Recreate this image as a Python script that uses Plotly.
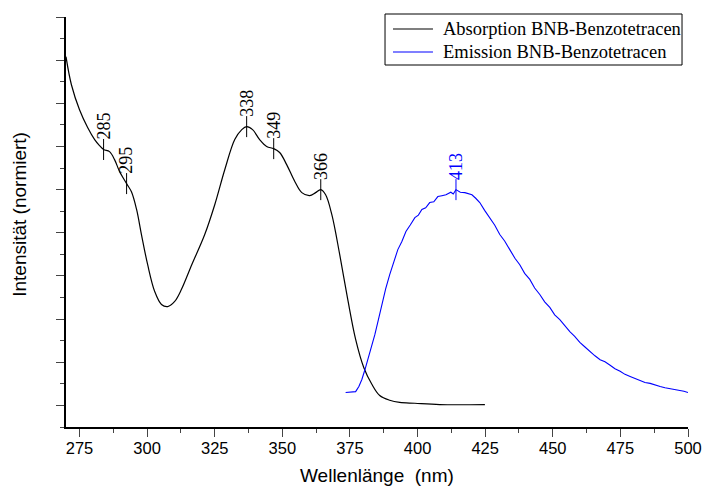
import plotly.graph_objects as go

# Absorption spectrum (black)
abs_wl = [270.0, 272.0, 275.0, 278.0, 280.6, 282.4, 283.9, 286.1, 288.0, 289.8, 292.4, 294.2,
          296.1, 297.9, 300.2, 302.8, 305.3, 307.6, 310.2, 312.7, 316.5, 321.3, 325.0, 328.7,
          332.4, 335.0, 336.8, 339.0, 341.6, 344.2, 346.8, 349.0, 351.6, 354.6, 357.2, 360.1,
          362.3, 364.2, 366.0, 368.3, 371.2, 374.2, 377.1, 380.1, 383.1, 386.0, 389.7, 393.4,
          399.0, 408.2, 424.9]
abs_int = [0.808, 0.743, 0.685, 0.644, 0.616, 0.602, 0.593, 0.588, 0.569, 0.542, 0.514, 0.495,
           0.454, 0.396, 0.326, 0.264, 0.234, 0.229, 0.241, 0.269, 0.326, 0.396, 0.465, 0.546,
           0.616, 0.639, 0.646, 0.639, 0.616, 0.600, 0.595, 0.586, 0.558, 0.519, 0.493, 0.486,
           0.493, 0.500, 0.488, 0.442, 0.350, 0.245, 0.153, 0.088, 0.049, 0.023, 0.012, 0.007,
           0.005, 0.002, 0.002]

# Emission spectrum (blue)
em_wl = [373.4, 377.1, 378.3, 379.4, 380.5, 381.6, 382.9, 384.2, 385.5, 386.8, 388.2, 389.7,
         391.2, 392.7, 394.2, 395.7, 397.3, 399.0, 400.3, 401.6, 403.0, 404.5, 406.0, 407.5,
         409.0, 410.5, 412.3, 413.2, 414.2, 415.8, 417.5, 418.8, 420.1, 421.5, 423.0, 424.8,
         426.7, 428.5, 430.4, 432.2, 434.1, 436.0, 437.8, 439.6, 441.5, 443.3, 445.2, 447.0,
         448.9, 450.7, 452.6, 454.4, 456.3, 458.1, 460.0, 461.8, 463.7, 465.6, 467.5, 469.3,
         471.2, 473.0, 474.9, 476.7, 478.6, 480.4, 482.3, 484.1, 486.0, 487.8, 489.7, 491.5,
         493.4, 495.2, 497.1, 498.5, 500.0]
em_int = [0.030, 0.032, 0.044, 0.060, 0.082, 0.106, 0.133, 0.164, 0.198, 0.234, 0.270, 0.303,
          0.330, 0.361, 0.380, 0.403, 0.418, 0.435, 0.441, 0.454, 0.458, 0.470, 0.472, 0.484,
          0.486, 0.488, 0.494, 0.490, 0.500, 0.494, 0.493, 0.490, 0.488, 0.480, 0.470, 0.452,
          0.435, 0.418, 0.396, 0.381, 0.361, 0.341, 0.326, 0.306, 0.292, 0.272, 0.257, 0.240,
          0.227, 0.210, 0.199, 0.184, 0.171, 0.160, 0.146, 0.136, 0.125, 0.115, 0.106, 0.101,
          0.093, 0.085, 0.079, 0.072, 0.067, 0.063, 0.058, 0.053, 0.051, 0.047, 0.044, 0.041,
          0.039, 0.036, 0.035, 0.033, 0.030]

# Peak markers
abs_peak_wl = [283.9, 292.4, 336.8, 346.8, 364.2]
abs_peak_int = [0.593, 0.514, 0.646, 0.595, 0.500]
abs_peak_lbl = ["285", "295", "338", "349", "366"]
em_peak_wl = [414.2]
em_peak_int = [0.500]
em_peak_lbl = ["413"]

series_names = ["Absorption BNB-Benzotetracen", "Emission BNB-Benzotetracen"]
series_colors = ["black", "#0000ff"]

fig = go.Figure()
fig.add_trace(go.Scatter(x=abs_wl, y=abs_int, mode="lines", line=dict(color=series_colors[0], width=1.2, shape="spline"),
                         name=series_names[0], showlegend=False))
fig.add_trace(go.Scatter(x=em_wl, y=em_int, mode="lines", line=dict(color=series_colors[1], width=1.1),
                         name=series_names[1], showlegend=False))
fig.add_trace(go.Scatter(x=abs_peak_wl, y=abs_peak_int, mode="markers", showlegend=False, hoverinfo="skip",
                         marker=dict(symbol="line-ns-open", size=15, color="black",
                                     line=dict(color="black", width=1))))
fig.add_trace(go.Scatter(x=em_peak_wl, y=em_peak_int, mode="markers", showlegend=False, hoverinfo="skip",
                         marker=dict(symbol="line-ns-open", size=15, color="#0000ff",
                                     line=dict(color="#0000ff", width=1))))

for x, y, t in zip(abs_peak_wl, abs_peak_int, abs_peak_lbl):
    fig.add_annotation(x=x, y=y, text=t, textangle=-90, showarrow=False, xanchor="center", yanchor="bottom",
                       yshift=8, font=dict(family="Liberation Serif", size=18, color="black"))
for x, y, t in zip(em_peak_wl, em_peak_int, em_peak_lbl):
    fig.add_annotation(x=x, y=y, text=t, textangle=-90, showarrow=False, xanchor="center", yanchor="bottom",
                       yshift=8, font=dict(family="Liberation Serif", size=18, color="#0000ff"))

# Legend box (drawn manually for exact spacing)
fig.add_shape(type="rect", xref="paper", yref="paper", x0=0.5129, x1=0.9904, y0=0.8829, y1=1.0073,
              line=dict(color="black", width=1), fillcolor="white", layer="above")
for row_y, name, col in zip([0.9707, 0.9146], series_names, series_colors):
    fig.add_shape(type="line", xref="paper", yref="paper", x0=0.5257, x1=0.590, y0=row_y, y1=row_y,
                  line=dict(color=col, width=1.2), layer="above")
    fig.add_annotation(x=0.6029, y=row_y, xref="paper", yref="paper", xanchor="left", yanchor="middle",
                       text=name, showarrow=False, font=dict(family="Liberation Serif", size=18.5, color="black"))

# Axis titles
fig.add_annotation(x=0.5, y=-0.119, xref="paper", yref="paper", yanchor="middle", xanchor="center",
                   text="Wellenlänge\u00a0\u00a0(nm)", showarrow=False, font=dict(family="Liberation Sans", size=19))
fig.add_annotation(x=-0.074, y=0.52, xref="paper", yref="paper", yanchor="middle", xanchor="center",
                   text="Intensität (normiert)", textangle=-90, showarrow=False,
                   font=dict(family="Liberation Sans", size=19))

fig.update_layout(
    width=703, height=486,
    margin=dict(l=66, r=15, t=17, b=59),
    paper_bgcolor="white", plot_bgcolor="white",
    font=dict(family="Liberation Sans", size=16.5, color="black"),
    showlegend=False,
    xaxis=dict(range=[270, 500], tickmode="linear", tick0=275, dtick=25, ticks="outside", ticklen=8,
               tickwidth=1.2, showline=True, linecolor="black", linewidth=1.5, showgrid=False, zeroline=False,
               tickfont=dict(size=16.5), automargin=False, ticklabelstandoff=-3,
               minor=dict(ticks="outside", ticklen=4, tickwidth=1.2, dtick=12.5, tick0=262.5)),
    yaxis=dict(range=[-0.05, 0.9], tickmode="linear", tick0=0, dtick=0.1, ticks="outside", ticklen=8,
               tickwidth=1.2, showticklabels=False, showline=True, linecolor="black", linewidth=1.5,
               showgrid=False, zeroline=False, automargin=False,
               minor=dict(ticks="outside", ticklen=4, tickwidth=1.2, dtick=0.05, tick0=0.05)),
)

fig.write_html("out.html", config={"displayModeBar": False},
               post_script="document.body.style.margin='0';document.body.style.overflow='hidden';")
